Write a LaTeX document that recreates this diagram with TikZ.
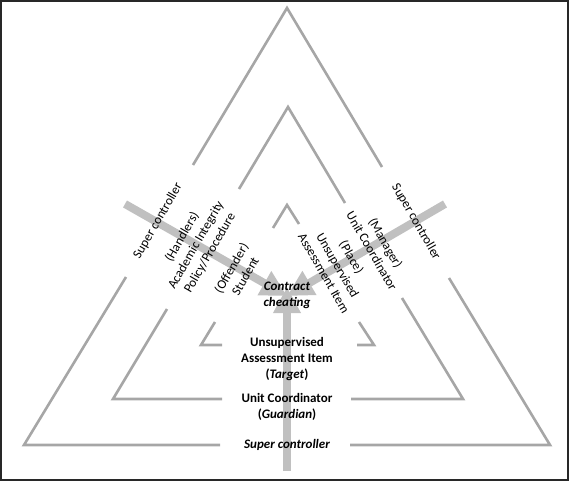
\documentclass[tikz,border=0pt]{standalone}
\usepackage{fontspec}
\setmainfont{Carlito}
\usetikzlibrary{arrows.meta}
\definecolor{triline}{RGB}{166,166,166}
\definecolor{arrowgray}{RGB}{192,192,192}
\definecolor{framecol}{RGB}{40,40,40}
\begin{document}
\begin{tikzpicture}[x=1pt,y=-1pt,
  tri/.style={draw=triline,line width=2.6pt,line join=miter,line cap=butt},
  bigarrow/.style={draw=arrowgray,line width=8pt,-{Triangle[length=26pt,width=26pt]}},
  lbl/.style={font=\fontsize{13}{16}\selectfont,align=center,inner sep=0pt,text=black},
  blbl/.style={lbl,font=\fontsize{13}{16}\selectfont\bfseries},
  bilbl/.style={lbl,font=\fontsize{13}{16}\selectfont\bfseries\itshape}]
\useasboundingbox (0,0) rectangle (569,481);
\draw[framecol,line width=1.6pt] (1,1) rectangle (568,480);
% outer triangle
\coordinate (A1) at (287,8);
\coordinate (L1) at (24,445);
\coordinate (R1) at (550,445);
\draw[tri] (193,165) -- (A1) -- (382,167);
\draw[tri] (126,277) -- (L1) -- (220,445);
\draw[tri] (449,278) -- (R1) -- (350,445);
% middle triangle
\coordinate (A2) at (288,107);
\coordinate (L2) at (113,399);
\coordinate (R2) at (463,399);
\draw[tri] (239,189) -- (A2) -- (345,203);
\draw[tri] (167,309) -- (L2) -- (222,399);
\draw[tri] (402,298) -- (R2) -- (351,399);
% inner triangle
\coordinate (A3) at (287,205);
\coordinate (L3) at (201,345);
\coordinate (R3) at (374,345);
\draw[tri] (273,228) -- (A3) -- (299,224);
\draw[tri] (215,322) -- (L3) -- (222,345);
\draw[tri] (359,322) -- (R3) -- (357,345);
% arrows
\coordinate (aL) at (125,204);
\coordinate (aR) at (445,204);
\coordinate (aB) at (287,471);
\coordinate (tL) at (287,296);
\coordinate (tR) at (287,296);
\coordinate (tB) at (287,287);
\draw[bigarrow] (aL) -- (tL);
\draw[bigarrow] (aR) -- (tR);
\draw[bigarrow] (aB) -- (tB);
% left labels
\node[lbl,rotate=60] (supL) at (158,221) {Super controller};
\node[lbl,rotate=60] (handL) at (196,245) {(Handlers)\\Academic Integrity\\Policy/Procedure};
\node[lbl,rotate=60] (offL) at (238,272) {(Offender)\\Student};
% right labels
\node[lbl,rotate=-60] (supR) at (416,222) {Super controller};
\node[lbl,rotate=-60] (manR) at (379,247) {(Manager)\\Unit Coordinator};
\node[lbl,rotate=-60] (placeR) at (338,265) {(Place)\\Unsupervised\\Assessment Item};
% centre and bottom labels
\node[bilbl] (cc) at (287,295) {Contract\\cheating};
\node[blbl] (target) at (287,359) {Unsupervised\\Assessment Item\\(\textit{Target})};
\node[blbl] (guard) at (287,407) {Unit Coordinator\\(\textit{Guardian})};
\node[bilbl] (supB) at (287,445) {Super controller};
\end{tikzpicture}
\end{document}
